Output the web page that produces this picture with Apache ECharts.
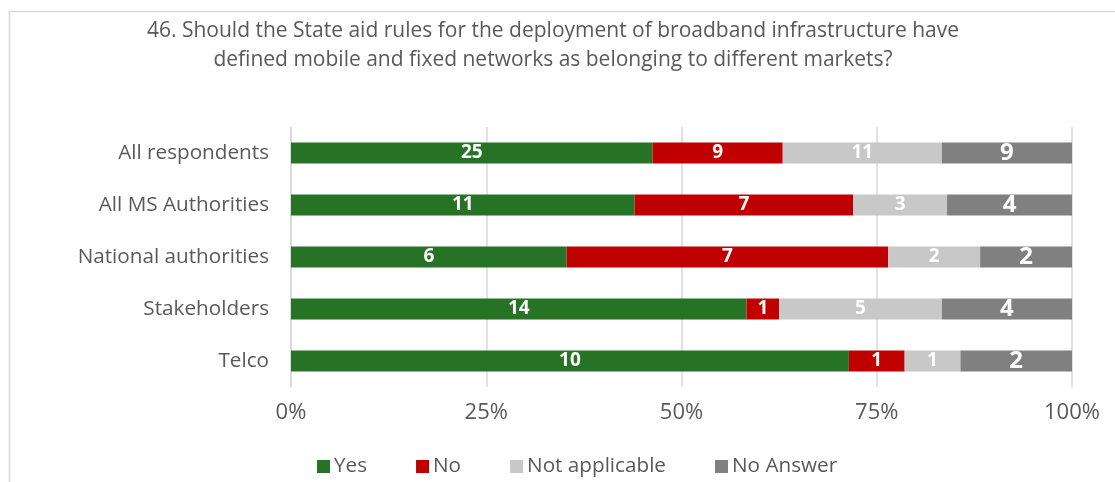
<!DOCTYPE html>
<html>
<head>
<meta charset="utf-8">
<script src="https://cdn.jsdelivr.net/npm/echarts@6/dist/echarts.min.js"></script>
<style>
  html, body { margin: 0; padding: 0; background: #fff; }
  #chart { width: 1115px; height: 482px; }
</style>
</head>
<body>
<div id="chart"></div>
<script>
// Respondent groups, top to bottom
const categories = ['All respondents', 'All MS Authorities', 'National authorities', 'Stakeholders', 'Telco'];
// Answer counts per group
const yesCounts = [25, 11, 6, 14, 10];
const noCounts = [9, 7, 7, 1, 1];
const notApplicableCounts = [11, 3, 2, 5, 1];
const noAnswerCounts = [9, 4, 2, 4, 2];
const answerNames = ['Yes', 'No', 'Not applicable', 'No Answer'];
const percentTicks = ['0%', '25%', '50%', '75%', '100%'];

const countSets = [yesCounts, noCounts, notApplicableCounts, noAnswerCounts];
const totals = categories.map((_, i) => countSets.reduce((s, arr) => s + arr[i], 0));
const colors = ['#267326', '#C00000', '#C8C8C8', '#808080'];
const labelSizes = [19, 19, 19, 24];
const FONT = '"Open Sans", "Noto Sans", sans-serif';

const series = countSets.map((counts, k) => ({
  name: answerNames[k],
  type: 'bar',
  stack: 'total',
  barWidth: 21,
  itemStyle: { color: colors[k] },
  label: {
    show: true,
    position: 'inside',
    color: '#fff',
    fontFamily: FONT,
    fontWeight: 'bold',
    fontSize: labelSizes[k],
    formatter: p => String(counts[p.dataIndex])
  },
  // share of each group's total, plotted on the 0–100 axis
  data: counts.map((c, i) => c / totals[i] * 100)
}));

const chart = echarts.init(document.getElementById('chart'), null, { renderer: 'canvas' });
chart.setOption({
  animation: false,
  backgroundColor: '#fff',
  graphic: [
    {
      type: 'rect',
      shape: { x: 9.5, y: 11.5, width: 1200, height: 600 },
      style: { fill: 'none', stroke: '#D9D9D9', lineWidth: 1.5 },
      silent: true
    },
    {
      type: 'text',
      x: 553,
      y: 17,
      style: {
        text: '46. Should the State aid rules for the deployment of broadband infrastructure have\ndefined mobile and fixed networks as belonging to different markets?',
        fill: '#595959',
        font: '21px "Open Sans", "Noto Sans", sans-serif',
        textAlign: 'center',
        lineHeight: 29
      }
    }
  ],
  grid: { left: 291, right: 43, top: 127, height: 260, containLabel: false },
  xAxis: {
    type: 'value',
    min: 0,
    max: 100,
    interval: 25,
    axisLine: { show: false },
    axisTick: { show: false },
    splitLine: { show: true, lineStyle: { color: '#D9D9D9', width: 1.5 } },
    axisLabel: {
      color: '#595959',
      fontFamily: FONT,
      fontSize: 22,
      margin: 15,
      formatter: v => percentTicks[v / 25]
    }
  },
  yAxis: {
    type: 'category',
    data: categories,
    inverse: true,
    axisLine: { show: true, lineStyle: { color: '#D9D9D9', width: 1.5 } },
    axisTick: { show: false },
    axisLabel: { color: '#595959', fontFamily: FONT, fontSize: 20.7, margin: 22 }
  },
  legend: {
    top: 451,
    left: 312,
    itemWidth: 13,
    itemHeight: 13,
    itemGap: 49,
    icon: 'rect',
    textStyle: { color: '#595959', fontFamily: FONT, fontSize: 20.7, padding: [0, 0, 0, -1] },
    data: answerNames
  },
  series: series
});
</script>
</body>
</html>
